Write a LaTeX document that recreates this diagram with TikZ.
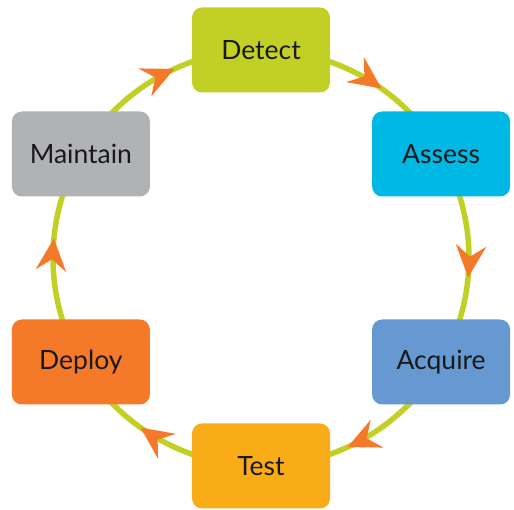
\documentclass[tikz,border=0pt]{standalone}
\usepackage{fontspec}
\setmainfont{Lato}
\usetikzlibrary{arrows.meta,decorations.markings,backgrounds}

\definecolor{ringlime}{RGB}{194,208,38}
\definecolor{tiporange}{RGB}{244,122,42}
\definecolor{detectc}{RGB}{194,208,38}
\definecolor{assessc}{RGB}{0,184,228}
\definecolor{acquirec}{RGB}{102,153,210}
\definecolor{testc}{RGB}{250,172,24}
\definecolor{deployc}{RGB}{244,122,42}
\definecolor{maintainc}{RGB}{177,178,182}

\begin{document}
\begin{tikzpicture}[x=1pt,y=1pt,
    phase/.style={rectangle,rounded corners=10pt,minimum width=138pt,
                  minimum height=85pt,inner sep=0pt,text=black!90,
                  font=\fontsize{26.5}{30}\selectfont},
    ring/.style={draw=ringlime,line width=5.5pt,postaction={decorate},
                 decoration={markings,mark=at position 0.59 with
                   {\arrow{Stealth[length=32pt,width=30pt,inset=11pt,tiporange]}}}}]
  \useasboundingbox (-261,-252) rectangle (253,258);

  \node[phase,fill=detectc]   (Det) at (90:208pt)  {Detect};
  \node[phase,fill=assessc]   (Ass) at (30:208pt)  {Assess};
  \node[phase,fill=acquirec]  (Acq) at (-30:208pt) {Acquire};
  \node[phase,fill=testc]     (Tst) at (-90:208pt) {Test};
  \node[phase,fill=deployc]   (Dep) at (210:208pt) {Deploy};
  \node[phase,fill=maintainc] (Mnt) at (150:208pt) {Maintain};

  \begin{scope}[on background layer]
    \draw[ring] (Det.center) arc[start angle=90,end angle=30,radius=208pt];
    \draw[ring] (Ass.center) arc[start angle=30,end angle=-30,radius=208pt];
    \draw[ring] (Acq.center) arc[start angle=-30,end angle=-90,radius=208pt];
    \draw[ring] (Tst.center) arc[start angle=-90,end angle=-150,radius=208pt];
    \draw[ring] (Dep.center) arc[start angle=210,end angle=150,radius=208pt];
    \draw[ring] (Mnt.center) arc[start angle=150,end angle=90,radius=208pt];
  \end{scope}
\end{tikzpicture}
\end{document}
